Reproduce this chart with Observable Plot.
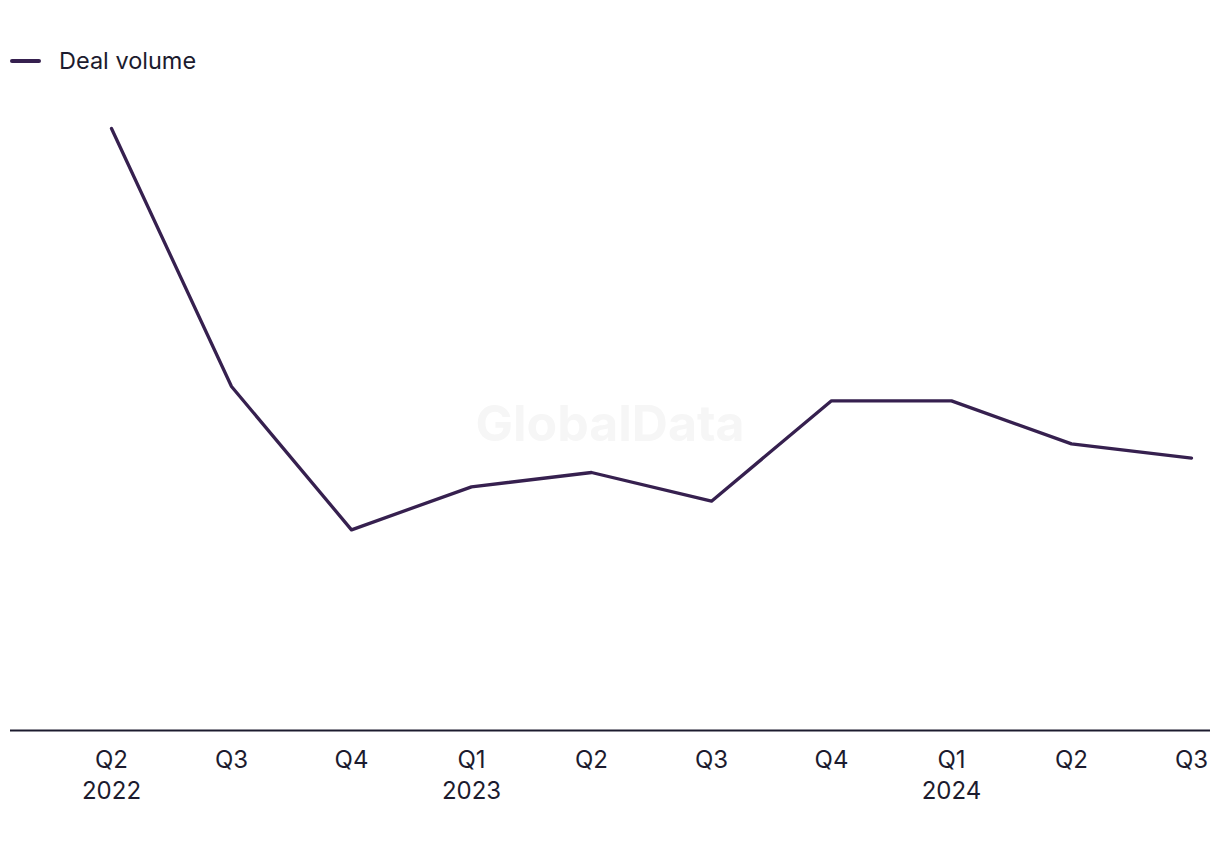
<!DOCTYPE html>
<html>
<head>
<meta charset="utf-8">
<script src="https://cdn.jsdelivr.net/npm/d3@7"></script>
<script src="https://cdn.jsdelivr.net/npm/@observablehq/plot@0.6"></script>
<style>
  body { margin: 0; background: #fff; font-family: Inter, "Noto Sans", sans-serif; color: #1c1b2e; }
  #legend { height: 100px; position: relative; }
  #legend .item { position: absolute; left: 10px; top: 47px; display: flex; align-items: center; font-size: 23.5px; line-height: 28px; }
  #legend .swatch { width: 31px; height: 4px; border-radius: 2px; background: #36204f; margin-right: 18px; }
  #chart { position: relative; }
  #wm { position: absolute; left: 0; width: 1220px; top: 293px; text-align: center; font-size: 50px; font-weight: 700; color: #f6f6f6; pointer-events: none; }
</style>
</head>
<body>
<div id="legend"><div class="item"><div class="swatch"></div><span>Deal volume</span></div></div>
<div id="chart"><div id="wm">GlobalData</div></div>
<script>
const quarters = ["Q2 2022", "Q3 2022", "Q4 2022", "Q1 2023", "Q2 2023", "Q3 2023", "Q4 2023", "Q1 2024", "Q2 2024", "Q3 2024"];
const tickLabels = ["Q2\n2022", "Q3", "Q4", "Q1\n2023", "Q2", "Q3", "Q4", "Q1\n2024", "Q2", "Q3"];
const dealVolume = [42, 24, 14, 17, 18, 16, 23, 23, 20, 19];

const data = quarters.map((q, i) => ({quarter: q, value: dealVolume[i], label: tickLabels[i]}));

const chart = Plot.plot({
  width: 1220,
  height: 720,
  marginLeft: 10,
  marginRight: 10,
  marginTop: 28,
  marginBottom: 90,
  style: {fontFamily: "Inter, 'Noto Sans', sans-serif", color: "#1c1b2e", background: "transparent"},
  x: {type: "point", domain: quarters, padding: 0, insetLeft: 100, insetRight: 18},
  y: {domain: [0, 42], axis: null},
  marks: [
    Plot.axisX({
      tickSize: 0,
      tickPadding: 15,
      fontSize: 24,
      lineHeight: 1.3,
      tickFormat: (d) => tickLabels[quarters.indexOf(d)],
      label: null,
      fill: "#1c1b2e"
    }),
    Plot.ruleY([0], {stroke: "#1c1b2e", strokeWidth: 2}),
    Plot.line(data, {x: "quarter", y: "value", stroke: "#36204f", strokeWidth: 3.3})
  ]
});
document.getElementById("chart").appendChild(chart);
</script>
</body>
</html>
